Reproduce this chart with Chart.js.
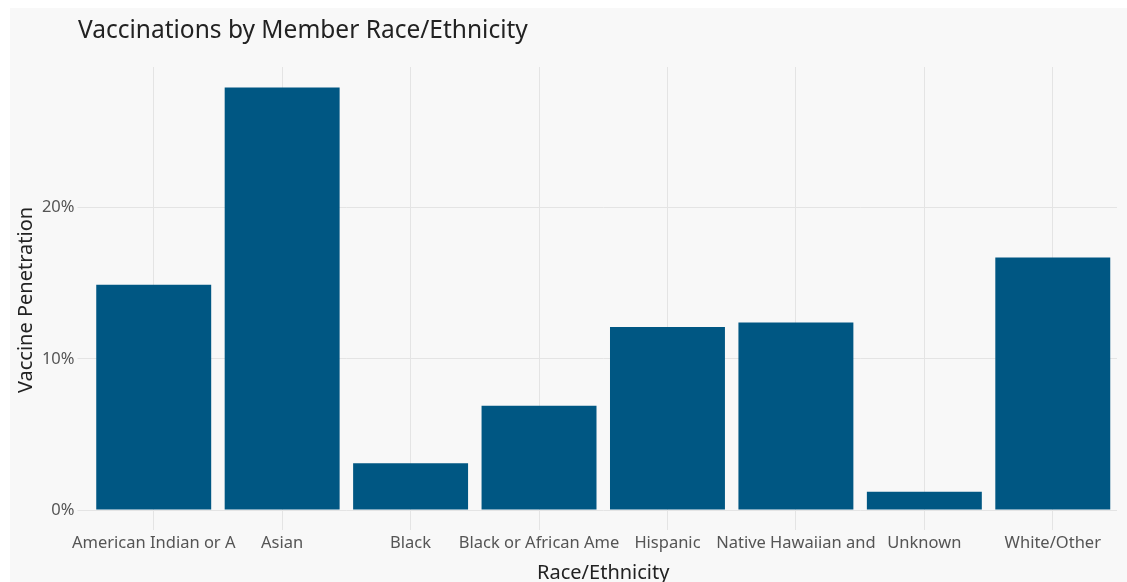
<!DOCTYPE html>
<html>
<head>
<meta charset="utf-8">
<script src="https://cdn.jsdelivr.net/npm/chart.js@4.4.1/dist/chart.umd.min.js"></script>
<style>
    body { margin: 0; background: #ffffff; }
    #wrap { position: absolute; left: 10px; top: 8px; width: 1117px; height: 574px; }
</style>
</head>
<body>
<div id="wrap"><canvas id="grafico"></canvas></div>
<script>
var categorias = ["American Indian or A", "Asian", "Black", "Black or African Ame", "Hispanic", "Native Hawaiian and", "Unknown", "White/Other"];
var penetracao = [14.9, 27.95, 3.1, 6.9, 12.1, 12.4, 1.2, 16.7];
var ticksY = [0, 10, 20];
var titulo = "Vaccinations by Member Race/Ethnicity";
var tituloY = "Vaccine Penetration";

var fonte = "'Noto Sans', 'DejaVu Sans', sans-serif";

// fundo cinza, titulo alinhado a esquerda e titulo do eixo y
const fundoPlugin = {
    id: 'fundo',
    beforeDraw: function (chart) {
        const ctx = chart.ctx;
        ctx.save();
        ctx.fillStyle = '#f8f8f8';
        ctx.fillRect(0, 0, chart.width, chart.height);
        ctx.fillStyle = '#222222';
        ctx.font = "24.5px " + fonte;
        ctx.textBaseline = 'middle';
        ctx.fillText(titulo, 68, 23);

        ctx.font = "20px " + fonte;
        ctx.textAlign = 'center';
        ctx.translate(16, 292);
        ctx.rotate(-Math.PI / 2);
        ctx.fillText(tituloY, 0, 0);
        ctx.restore();
    }
};

const ctx = document.getElementById('grafico').getContext('2d');
const grafico = new Chart(ctx, {
    type: 'bar',
    data: {
        labels: categorias,
        datasets: [{
            label: tituloY,
            data: penetracao,
            backgroundColor: '#005783',
            borderWidth: 0,
            barPercentage: 0.895,
            categoryPercentage: 1
        }]
    },
    options: {
        responsive: true,
        maintainAspectRatio: false,
        animation: false,
        layout: { padding: { top: 59, right: 10, left: 0, bottom: 0 } },
        plugins: {
            legend: { display: false },
            tooltip: { enabled: false }
        },
        scales: {
            x: {
                afterFit: function (scale) { scale.height = 72; },
                border: { display: false },
                grid: { color: '#e4e4e4', offset: false, tickLength: 20, tickColor: '#e4e4e4' },
                ticks: { color: '#555555', font: { family: fonte, size: 16.5 }, padding: 3, autoSkip: false, maxRotation: 0 },
                title: { display: true, text: 'Race/Ethnicity', color: '#222222', font: { family: fonte, size: 20 }, padding: { top: 0, bottom: -3 } }
            },
            y: {
                min: 0,
                max: 29.3,
                afterFit: function (scale) { scale.width = 79.5; },
                afterBuildTicks: function (scale) {
                    scale.ticks = ticksY.map(v => ({ value: v }));
                },
                border: { display: false },
                grid: { color: '#e4e4e4', tickLength: 12, tickColor: '#e4e4e4' },
                ticks: {
                    color: '#555555',
                    font: { family: fonte, size: 16.5 },
                    padding: 3,
                    callback: function (v) { return v + '%'; }
                }
            }
        }
    },
    plugins: [fundoPlugin]
});
</script>
</body>
</html>
